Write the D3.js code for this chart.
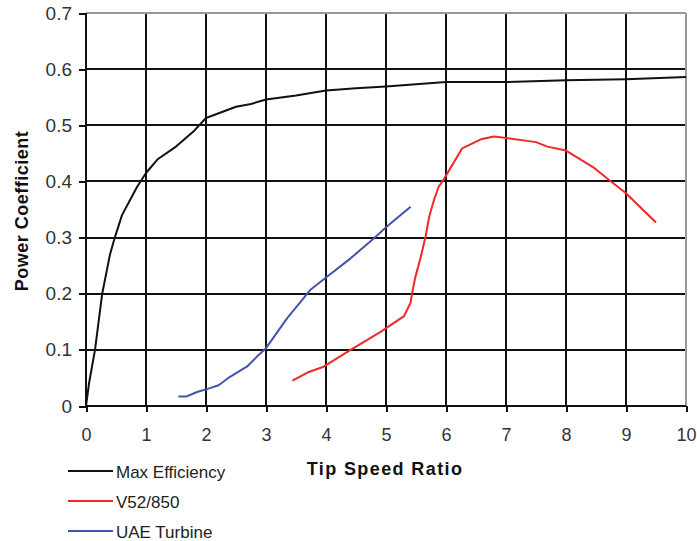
<!DOCTYPE html>
<html lang="en">
<head>
<meta charset="UTF-8">
<title>Power Coefficient vs Tip Speed Ratio</title>
<script src="https://d3js.org/d3.v7.min.js"></script>
<style>
    body { margin: 0; background: #fff; }
    text { font-family: "Liberation Sans", Arial, sans-serif; }
    .grid line { stroke: #111; stroke-width: 2; shape-rendering: crispEdges; }
    .axis path { display: none; }
    .axis line { stroke: #111; stroke-width: 2; shape-rendering: crispEdges; }
    .axis text { fill: #333; }
    .series { fill: none; stroke-width: 2; stroke-linejoin: round; }
</style>
</head>
<body>
<div id="chart"></div>
<script>
// Max Efficiency curve
var maxEffX = [0, 0.05, 0.15, 0.27, 0.4, 0.48, 0.6, 0.75, 0.85, 1.0, 1.2, 1.5, 1.8, 2.0, 2.3, 2.5, 2.75, 3.0, 3.5, 4.0, 4.5, 5.0, 6.0, 7.0, 8.0, 9.0, 10.0];
var maxEffY = [0, 0.04, 0.1, 0.2, 0.27, 0.3, 0.34, 0.37, 0.39, 0.415, 0.44, 0.462, 0.49, 0.513, 0.525, 0.533, 0.538, 0.546, 0.553, 0.562, 0.566, 0.569, 0.577, 0.577, 0.58, 0.582, 0.586];

// V52/850
var v52X = [3.44, 3.7, 3.96, 4.41, 4.91, 5.3, 5.41, 5.44, 5.49, 5.58, 5.66, 5.72, 5.8, 5.88, 5.97, 6.27, 6.58, 6.8, 6.97, 7.5, 7.69, 8.0, 8.47, 8.75, 9.0, 9.5];
var v52Y = [0.045, 0.06, 0.07, 0.1, 0.132, 0.16, 0.184, 0.204, 0.23, 0.266, 0.302, 0.337, 0.367, 0.391, 0.405, 0.459, 0.475, 0.48, 0.478, 0.47, 0.462, 0.455, 0.424, 0.4, 0.379, 0.327];

// UAE Turbine
var uaeX = [1.54, 1.68, 1.85, 2.04, 2.21, 2.4, 2.68, 2.85, 3.0, 3.35, 3.74, 3.99, 4.41, 4.8, 5.02, 5.41];
var uaeY = [0.017, 0.017, 0.025, 0.031, 0.037, 0.052, 0.07, 0.088, 0.103, 0.156, 0.207, 0.228, 0.263, 0.299, 0.32, 0.355];

var xTicks = [0, 1, 2, 3, 4, 5, 6, 7, 8, 9, 10];
var yTicks = [0, 0.1, 0.2, 0.3, 0.4, 0.5, 0.6, 0.7];

var seriesNames = ["Max Efficiency", "V52/850", "UAE Turbine"];
var seriesColors = ["#111111", "#f02828", "#4253ad"];

var W = 697, H = 541;
var margin = { top: 13, right: 11, bottom: 135, left: 86 };
var width = W - margin.left - margin.right;
var height = H - margin.top - margin.bottom;

var svg = d3.select("#chart").append("svg")
    .attr("width", W)
    .attr("height", H);

var g = svg.append("g")
    .attr("transform", "translate(" + margin.left + "," + margin.top + ")");

var x = d3.scaleLinear().domain([0, 10]).range([0, width]);
var y = d3.scaleLinear().domain([0, 0.7]).range([height, 0]);

// grid
var grid = g.append("g").attr("class", "grid");
grid.selectAll(".v").data(xTicks.slice(1, -1)).enter().append("line")
    .attr("x1", d => x(d)).attr("x2", d => x(d))
    .attr("y1", 0).attr("y2", height);
grid.selectAll(".h").data(yTicks.slice(1, -1)).enter().append("line")
    .attr("x1", 0).attr("x2", width)
    .attr("y1", d => y(d)).attr("y2", d => y(d));

// gray top / right frame
g.append("line").attr("x1", 0).attr("x2", width).attr("y1", 0).attr("y2", 0)
    .attr("stroke", "#999").attr("stroke-width", 2).attr("shape-rendering", "crispEdges");
g.append("line").attr("x1", width).attr("x2", width).attr("y1", 0).attr("y2", height)
    .attr("stroke", "#999").attr("stroke-width", 2).attr("shape-rendering", "crispEdges");

// axes
var xAxis = d3.axisBottom(x).tickValues(xTicks).tickSize(6).tickPadding(16).tickFormat(d3.format("d"));
var yAxis = d3.axisLeft(y).tickValues(yTicks).tickSize(7).tickPadding(7)
    .tickFormat(d => d === 0 ? "0" : d3.format(".1f")(d));

g.append("g").attr("class", "axis").attr("transform", "translate(0," + height + ")").call(xAxis)
    .selectAll("text").attr("font-size", "18px");
g.append("g").attr("class", "axis").call(yAxis)
    .selectAll("text").attr("font-size", "19px");

// axis lines
g.append("line").attr("x1", 0).attr("x2", width).attr("y1", height).attr("y2", height)
    .attr("stroke", "#111").attr("stroke-width", 2.5).attr("shape-rendering", "crispEdges");
g.append("line").attr("x1", 0).attr("x2", 0).attr("y1", 0).attr("y2", height)
    .attr("stroke", "#111").attr("stroke-width", 2.5).attr("shape-rendering", "crispEdges");

// series
var line = d3.line()
    .x(d => x(d[0]))
    .y(d => y(d[1]));

var seriesData = [
    d3.zip(maxEffX, maxEffY),
    d3.zip(v52X, v52Y),
    d3.zip(uaeX, uaeY)
];

seriesData.forEach(function (pts, i) {
    g.append("path")
        .attr("class", "series")
        .attr("stroke", seriesColors[i])
        .attr("d", line(pts));
});

// axis titles
svg.append("text")
    .attr("x", 385).attr("y", 475)
    .attr("text-anchor", "middle")
    .attr("font-size", "18px").attr("font-weight", "bold").attr("fill", "#111")
    .attr("letter-spacing", "1.4px")
    .text("Tip Speed Ratio");

svg.append("text")
    .attr("transform", "translate(28,211) rotate(-90)")
    .attr("text-anchor", "middle")
    .attr("font-size", "18px").attr("font-weight", "bold").attr("fill", "#111")
    .attr("letter-spacing", "0.5px")
    .text("Power Coefficient");

// legend
var legend = svg.append("g").attr("transform", "translate(68,471)");
seriesNames.forEach(function (name, i) {
    var row = legend.append("g").attr("transform", "translate(0," + (i * 30) + ")");
    row.append("line").attr("x1", 0).attr("x2", 45).attr("y1", 0).attr("y2", 0)
        .attr("stroke", seriesColors[i]).attr("stroke-width", 2);
    row.append("text").attr("x", 48).attr("y", 7)
        .attr("font-size", "17px").attr("fill", "#222")
        .text(name);
});
</script>
</body>
</html>
